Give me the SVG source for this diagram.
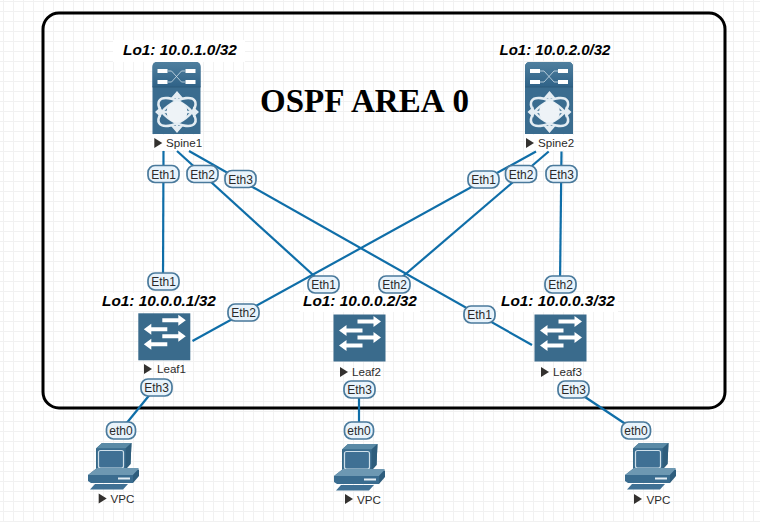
<svg xmlns="http://www.w3.org/2000/svg" width="760" height="522" viewBox="0 0 760 522">
<style>
.lo{font:italic bold 15.4px "Liberation Sans",Arial,sans-serif;fill:#000}
.nm{font:11.6px "Liberation Sans",Arial,sans-serif;fill:#2b2b2b}
.pt{font:12px "Liberation Sans",Arial,sans-serif;fill:#2a2a2a;text-anchor:middle}
.pl{fill:#e8f3fb;stroke:#4a7a9c;stroke-width:1.7}
.ln{stroke:#0f6ea8;stroke-width:2.2;fill:none}
.bg{fill:#fff}
.tri{fill:#33312f}
</style>
<defs>
<pattern id="grid" width="10" height="10" patternUnits="userSpaceOnUse" x="3" y="1">
<path d="M0 .5H10M.5 0V10" fill="none" stroke="#f1f1f1" stroke-width="1"/>
</pattern>
<linearGradient id="top" x1="0" y1="0" x2="0" y2="1"><stop offset="0" stop-color="#4f7f9e"/><stop offset="1" stop-color="#2f6287"/></linearGradient>
<g id="spine">
<path d="M0 72V5Q0 0 5 0H43Q48 0 48 5V72Z" fill="#3a6c8f"/>
<path d="M0 25V5Q0 0 5 0H43Q48 0 48 5V25Z" fill="url(#top)"/>
<path d="M0 25H48" stroke="#2d5a7a" stroke-width="1"/>
<g fill="#fff">
<rect x="5" y="7" width="10" height="4"/><rect x="33" y="7" width="10" height="4"/>
<rect x="5" y="18" width="10" height="4"/><rect x="33" y="18" width="10" height="4"/>
</g>
<path d="M15 9H19L29 20H33M15 20H19L29 9H33" stroke="#cfe0ea" stroke-width=".8" fill="none"/>
<g fill="none" stroke="#e4edf3" stroke-width="2.6">
<ellipse cx="24.500" cy="50" rx="21" ry="10" transform="rotate(32 24.500 50)"/>
<ellipse cx="24.500" cy="50" rx="21" ry="10" transform="rotate(-32 24.500 50)"/>
<path d="M24.500 31V69M6 50H43"/>
</g>
<path d="M24.500 29L18.500 36H30.500ZM24.500 71L18.500 64H30.500ZM2.500 50L8.500 44.500V55.500ZM46.500 50L40.500 44.500V55.500Z" fill="#e4edf3"/>
<circle cx="24.500" cy="50" r="10.500" fill="#eef3f7"/>
</g>
<g id="switch">
<rect width="52" height="47" fill="#3a6b8c"/>
<g fill="none" stroke="#fff" stroke-width="4">
<path d="M24 7H41M29 16H12M24 23H41M29 31H12"/>
</g>
<g fill="#fff">
<path d="M40 1.500L47.500 7L40 12.500ZM13 10.500L5.500 16L13 21.500ZM40 17.500L47.500 23L40 28.500ZM13 25.500L5.500 31L13 36.500Z"/>
</g>
</g>
<g id="pc">
<path d="M8 5.500L14 0H43.500L42.500 21L37 27H8Z" fill="#35667f"/>
<path d="M8 5.500L14 0H43.500L37.500 5.500Z" fill="#5a8aa6"/>
<path d="M37.500 5.500L43.500 0L42.500 21L37 27Z" fill="#2e5d7c"/>
<rect x="8.500" y="5.500" width="29" height="21.500" fill="#3a6c8f"/>
<rect x="10.500" y="7.500" width="25" height="17.500" rx="2" fill="#3f7094" stroke="#cfe0ea" stroke-width="1.200"/>
<path d="M0 32L9 25H48L51 27.500L45 34V40H3L0 38Z" fill="#3a6c8f"/>
<path d="M0 32L9 25H51L45 32Z" fill="#6d98b2"/>
<path d="M45 32L51 26V33L45 40Z" fill="#2e5d7c"/>
<path d="M30 34.500H42V36.500H30Z" fill="#e4eef4"/>
<path d="M2 46.500L7 41H40L35 46.500Z" fill="#3f7094"/>
</g>
<path id="tr" d="M0 0L8 5L0 10Z" class="tri"/>
</defs>

<rect width="760" height="522" fill="#fff"/>
<rect width="760" height="522" fill="url(#grid)"/>

<rect id="area" x="43" y="13" width="682" height="395" rx="16" fill="none" stroke="#000" stroke-width="3"/>
<text x="260" y="112" style="font:bold 33px 'Liberation Serif','Times New Roman',serif;fill:#000;word-spacing:1.500px">OSPF AREA 0</text>

<g id="connectors">
<path class="ln" d="M163.500 151L163 282"/>
<path class="ln" d="M177 151L323 284"/>
<path class="ln" d="M189 151L532 345"/>
<path class="ln" d="M536 151.500L192.500 341"/>
<path class="ln" d="M548.700 151.500L394 284"/>
<path class="ln" d="M561.500 151.500L560 284"/>
<path class="ln" d="M156 387L121 430"/>
<path class="ln" d="M359 389L359 431"/>
<path class="ln" d="M573 389L636 431"/>
<g id="ports">
<rect class="pl" x="148" y="165.500" width="31" height="17" rx="7"/><text class="pt" x="163.500" y="178.500">Eth1</text>
<rect class="pl" x="187" y="165.500" width="31" height="17" rx="7"/><text class="pt" x="202.500" y="178.500">Eth2</text>
<rect class="pl" x="225" y="170.500" width="31" height="17" rx="7"/><text class="pt" x="240.500" y="183.500">Eth3</text>
<rect class="pl" x="468" y="171" width="31" height="17" rx="7"/><text class="pt" x="483.500" y="184">Eth1</text>
<rect class="pl" x="505.500" y="165.500" width="31" height="17" rx="7"/><text class="pt" x="521" y="178.500">Eth2</text>
<rect class="pl" x="546" y="165.500" width="31" height="17" rx="7"/><text class="pt" x="561.500" y="178.500">Eth3</text>
<rect class="pl" x="148" y="273" width="31" height="17" rx="7"/><text class="pt" x="163.500" y="286">Eth1</text>
<rect class="pl" x="228" y="304" width="31" height="17" rx="7"/><text class="pt" x="243.500" y="317">Eth2</text>
<rect class="pl" x="308" y="276" width="31" height="17" rx="7"/><text class="pt" x="323.500" y="289">Eth1</text>
<rect class="pl" x="379" y="276" width="31" height="17" rx="7"/><text class="pt" x="394.500" y="289">Eth2</text>
<rect class="pl" x="545" y="276" width="31" height="17" rx="7"/><text class="pt" x="560.500" y="289">Eth2</text>
<rect class="pl" x="464" y="306" width="31" height="17" rx="7"/><text class="pt" x="479.500" y="319">Eth1</text>
<rect class="pl" x="141" y="379" width="31" height="17" rx="7"/><text class="pt" x="156.500" y="392">Eth3</text>
<rect class="pl" x="344" y="381" width="31" height="17" rx="7"/><text class="pt" x="359.500" y="394">Eth3</text>
<rect class="pl" x="558" y="381" width="31" height="17" rx="7"/><text class="pt" x="573.500" y="394">Eth3</text>
<rect class="pl" x="106.500" y="422" width="29" height="17" rx="7"/><text class="pt" x="121" y="435">eth0</text>
<rect class="pl" x="344.500" y="422" width="29" height="17" rx="7"/><text class="pt" x="359" y="435">eth0</text>
<rect class="pl" x="621.500" y="422" width="29" height="17" rx="7"/><text class="pt" x="636" y="435">eth0</text>
</g>
</g>

<g id="Spine1">
<rect class="bg" x="113" y="40" width="132" height="22"/>
<text class="lo" x="123" y="54.700">Lo1: 10.0.1.0/32</text>
<use href="#spine" x="152.500" y="62"/>
<rect class="bg" x="152" y="135" width="49" height="15"/>
<use href="#tr" x="154.300" y="138"/>
<text class="nm" x="166" y="146.500">Spine1</text>
</g>
<g id="Spine2">
<text class="lo" x="499.500" y="54.700" style="font-size:15px">Lo1: 10.0.2.0/32</text>
<use href="#spine" x="525" y="62"/>
<rect class="bg" x="525" y="135" width="49" height="15"/>
<use href="#tr" x="526" y="138"/>
<text class="nm" x="538" y="146.500">Spine2</text>
</g>
<g id="Leaf1">
<rect class="bg" x="100" y="293" width="120" height="18"/>
<text class="lo" x="102" y="305.700">Lo1: 10.0.0.1/32</text>
<use href="#switch" x="138.300" y="313.300"/>
<use href="#tr" x="144" y="364"/>
<text class="nm" x="157" y="373">Leaf1</text>
</g>
<g id="Leaf2">
<rect class="bg" x="300" y="294" width="120" height="18"/>
<text class="lo" x="303" y="305.700">Lo1: 10.0.0.2/32</text>
<use href="#switch" x="333.500" y="314.500"/>
<use href="#tr" x="340" y="367"/>
<text class="nm" x="352" y="375.500">Leaf2</text>
</g>
<g id="Leaf3">
<rect class="bg" x="498" y="294" width="120" height="18"/>
<text class="lo" x="501" y="306">Lo1: 10.0.0.3/32</text>
<use href="#switch" x="534.500" y="314.500"/>
<use href="#tr" x="541" y="367"/>
<text class="nm" x="553" y="375.500">Leaf3</text>
</g>
<g id="VPC1">
<use href="#pc" x="88" y="443"/>
<use href="#tr" x="98.700" y="493.500"/>
<text class="nm" x="110.500" y="502.500">VPC</text>
</g>
<g id="VPC2">
<use href="#pc" x="334" y="444"/>
<use href="#tr" x="345" y="494"/>
<text class="nm" x="357" y="503.500">VPC</text>
</g>
<g id="VPC3">
<use href="#pc" x="625" y="443"/>
<use href="#tr" x="634" y="494"/>
<text class="nm" x="646.500" y="503.500">VPC</text>
</g>
</svg>
